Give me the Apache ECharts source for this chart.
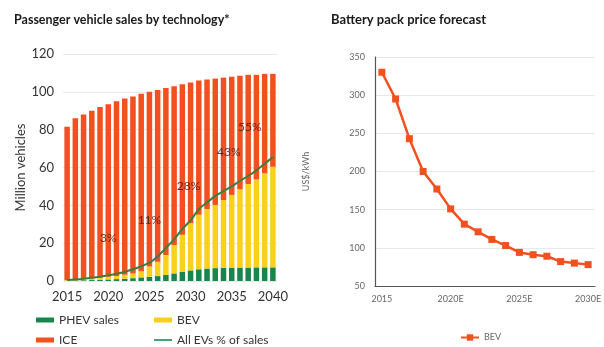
<!DOCTYPE html>
<html>
<head>
<meta charset="utf-8">
<script src="https://cdn.jsdelivr.net/npm/echarts@6/dist/echarts.min.js"></script>
<style>
  html, body { margin: 0; padding: 0; background: #fff; }
  #chart { width: 604px; height: 347px; }
</style>
</head>
<body>
<div id="chart"></div>
<script>
// Passenger vehicle sales (million vehicles), 2015-2040
const years = ['2015','2016','2017','2018','2019','2020','2021','2022','2023','2024','2025','2026','2027',
  '2028','2029','2030','2031','2032','2033','2034','2035','2036','2037','2038','2039','2040'];
const totalSales = [81.5, 86, 88, 90, 92, 93.5, 95, 96.5, 97.5, 99, 100, 101, 102,
  103, 104, 105, 106, 106.5, 107, 107.5, 108, 108.5, 109, 109, 109.5, 109.5];
const phevSales = [0.2, 0.3, 0.4, 0.5, 0.6, 0.8, 1.0, 1.2, 1.5, 1.9, 2.2, 2.6, 3.2,
  4.0, 4.9, 5.6, 6.2, 6.6, 6.8, 7.0, 7.0, 7.1, 7.1, 7.2, 7.2, 7.2];
const bevSales = [0.3, 0.4, 0.6, 0.8, 1.1, 1.4, 1.7, 2.1, 2.5, 3.3, 5.4, 7.6, 10.5,
  15.0, 19.6, 24.9, 28.8, 31.4, 33.4, 35.8, 38.5, 41.4, 44.2, 46.5, 49.7, 53.2];
const allEvLine = [0.5, 0.8, 1.2, 1.7, 2.3, 3.0, 3.8, 4.8, 6.2, 7.8, 9.7, 13.0, 17.5,
  22.0, 27.5, 32.0, 38.0, 41.5, 45.0, 47.5, 50.0, 53.0, 55.5, 58.5, 62.0, 65.5];
const shareYears = ['2020', '2025', '2030', '2035', '2040'];
const shareText = ['3%', '11%', '28%', '43%', '55%'];
const leftTicks = [0, 20, 40, 60, 80, 100, 120];

// Battery pack price (US$/kWh)
const priceYears = ['2015','2016','2017','2018','2019','2020E','2021E','2022E','2023E','2024E',
  '2025E','2026E','2027E','2028E','2029E','2030E'];
const bevPrice = [330, 295, 243, 200, 177, 151, 131, 121, 111, 103, 94, 91, 89, 82, 80, 78];

const iceSales = totalSales.map((t, i) => +(t - phevSales[i] - bevSales[i]).toFixed(2));

// label placement (pixel offsets from the line point)
const shareOffsets = [[0, -37], [0, -43], [-2, -34], [-3, -34], [-23, -30]];

const FONT = 'Lato, "Open Sans", sans-serif';
const RED = '#F2501F', YEL = '#F9D11B', GRN = '#18854A', LINE = '#3C7E3E';
const LINE_ICON = 'path://M0,0H20V2H0Z';

const chart = echarts.init(document.getElementById('chart'), null, { renderer: 'canvas' });

const legendBase = {
  itemWidth: 18, itemHeight: 5, itemGap: 4, padding: 0,
  textStyle: { fontFamily: FONT, fontSize: 12, color: '#333' },
  selectedMode: false
};

chart.setOption({
  animation: false,
  textStyle: { fontFamily: FONT },
  title: [
    { text: 'Passenger vehicle sales by technology*', left: 9, top: 8,
      textStyle: { fontFamily: FONT, fontSize: 12.5, fontWeight: 'bold', color: '#1a1a1a' } },
    { text: 'Battery pack price forecast', left: 326, top: 8,
      textStyle: { fontFamily: FONT, fontSize: 13, fontWeight: 'bold', color: '#1a1a1a' } }
  ],
  legend: [
    Object.assign({}, legendBase, { left: 36, top: 314, data: [{ name: 'PHEV sales', icon: 'rect' }] }),
    Object.assign({}, legendBase, { left: 154, top: 314, data: [{ name: 'BEV', icon: 'rect' }] }),
    Object.assign({}, legendBase, { left: 36, top: 334, data: [{ name: 'ICE', icon: 'rect' }] }),
    Object.assign({}, legendBase, { left: 154, top: 334, itemHeight: 2,
      data: [{ name: 'All EVs % of sales', icon: LINE_ICON }] }),
    { left: 455, top: 328, itemWidth: 18, itemHeight: 8, selectedMode: false,
      textStyle: { fontFamily: FONT, fontSize: 9, color: '#666' }, data: ['BEV '] }
  ],
  grid: [
    { left: 63, right: 327, top: 54, bottom: 66 },
    { left: 375, right: 4, top: 57, bottom: 61 }
  ],
  xAxis: [
    { type: 'category', gridIndex: 0, data: years,
      axisLine: { show: false }, axisTick: { show: false },
      axisLabel: { interval: 4, color: '#333', fontSize: 13, margin: 9, fontFamily: FONT } },
    { type: 'category', gridIndex: 1, data: priceYears, boundaryGap: true,
      axisLine: { show: true, lineStyle: { color: '#555', width: 1.2 } }, axisTick: { show: false },
      axisLabel: { interval: 4, color: '#666', fontSize: 9, margin: 9, fontFamily: FONT } }
  ],
  yAxis: [
    { type: 'value', gridIndex: 0, min: leftTicks[0], max: leftTicks[leftTicks.length - 1], interval: 20,
      name: 'Million vehicles', nameLocation: 'middle', nameGap: 32, nameRotate: 90,
      nameTextStyle: { color: '#333', fontSize: 13, fontFamily: FONT },
      axisLine: { show: false }, axisTick: { show: false },
      axisLabel: { color: '#333', fontSize: 13, margin: 9, fontFamily: FONT },
      splitLine: { lineStyle: { color: '#e8e8e8' } } },
    { type: 'value', gridIndex: 1, min: 50, max: 350, interval: 50,
      name: 'US$/kWh', nameLocation: 'middle', nameGap: 64, nameRotate: 90,
      nameTextStyle: { color: '#666', fontSize: 9, fontFamily: FONT },
      axisLine: { show: true, lineStyle: { color: '#555', width: 1.2 } }, axisTick: { show: false },
      axisLabel: { color: '#666', fontSize: 9, margin: 10, fontFamily: FONT },
      splitLine: { lineStyle: { color: '#e8e8e8' } } }
  ],
  series: [
    { name: 'PHEV sales', type: 'bar', stack: 'sales', xAxisIndex: 0, yAxisIndex: 0,
      data: phevSales, barCategoryGap: '33%', itemStyle: { color: GRN } },
    { name: 'BEV', type: 'bar', stack: 'sales', xAxisIndex: 0, yAxisIndex: 0,
      data: bevSales, itemStyle: { color: YEL } },
    { name: 'ICE', type: 'bar', stack: 'sales', xAxisIndex: 0, yAxisIndex: 0,
      data: iceSales, itemStyle: { color: RED } },
    { name: 'All EVs % of sales', type: 'line', xAxisIndex: 0, yAxisIndex: 0,
      data: allEvLine, smooth: 0.3, symbol: 'none', lineStyle: { color: LINE, width: 2 },
      itemStyle: { color: '#2E9A68' }, z: 5,
      markPoint: {
        symbol: 'circle', symbolSize: 0,
        label: { show: true, color: 'rgba(50,28,22,0.8)', fontSize: 12, fontFamily: FONT },
        data: shareYears.map((y, i) => {
          const idx = years.indexOf(y);
          return { coord: [y, allEvLine[idx]], value: shareText[i],
            label: { formatter: shareText[i], offset: shareOffsets[i] } };
        })
      } },
    { name: 'BEV ', type: 'line', xAxisIndex: 1, yAxisIndex: 1,
      data: bevPrice, symbol: 'rect', symbolSize: 7,
      lineStyle: { color: RED, width: 2.5 }, itemStyle: { color: RED } }
  ]
});
</script>
</body>
</html>
